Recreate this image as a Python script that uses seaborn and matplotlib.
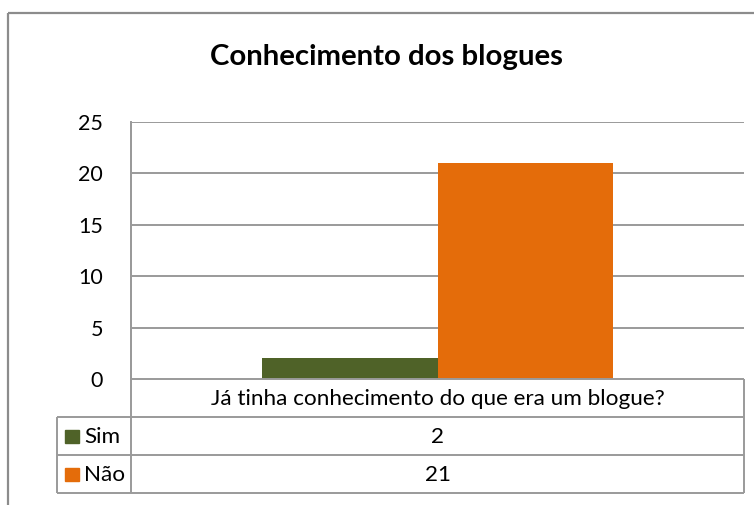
import matplotlib
matplotlib.use("Agg")
import matplotlib.pyplot as plt
import seaborn as sns
import pandas as pd
from matplotlib.lines import Line2D
from matplotlib.patches import Rectangle

title = "Conhecimento dos blogues"
categories = ["Já tinha conhecimento do que era um blogue?"]
series_names = ["Sim", "Não"]
sim_values = [2]
nao_values = [21]
colors = ["#4F6228", "#E46C0A"]
yticks = [0, 5, 10, 15, 20, 25]

sns.set_theme(style="white")
plt.rcParams['font.family'] = ['Lato', 'DejaVu Sans']

df = pd.DataFrame({
    "cat": categories * 2,
    "serie": [series_names[0]] * len(categories) + [series_names[1]] * len(categories),
    "val": sim_values + nao_values,
})

W, H = 754, 505
fig = plt.figure(figsize=(W / 100, H / 100), dpi=100)
fig.patch.set_facecolor("white")

grid_c = "#9A9A9A"

# main axes in pixel layout
L, R, T, B = 131, 744, 122, 379
ax = fig.add_axes([L / W, 1 - B / H, (R - L) / W, (B - T) / H])
sns.barplot(data=df, x="cat", y="val", hue="serie", palette=colors,
            width=0.572, saturation=1, ax=ax, legend=False, zorder=3)
for p in ax.patches:
    p.set_edgecolor("none")
ax.set_xlim(-0.5, 0.5)
ax.set_ylim(0, 25)
ax.set_yticks(yticks)
ax.set_yticklabels([str(t) for t in yticks], fontsize=15.5, color="black")
ax.tick_params(axis="y", length=0, pad=20)
ax.set_xticks([])
ax.set_xlabel("")
ax.set_ylabel("")
for y in yticks[1:]:
    ax.axhline(y, color=grid_c, lw=1.4, zorder=1)
for s in ["top", "right", "bottom"]:
    ax.spines[s].set_visible(False)
ax.spines["left"].set_color(grid_c)
ax.spines["left"].set_linewidth(1.4)

# overlay axes for frame, title and data table (pixel coords)
ov = fig.add_axes([0, 0, 1, 1], zorder=5)
ov.set_xlim(0, W)
ov.set_ylim(H, 0)
ov.axis("off")
ov.patch.set_alpha(0)

def line(x0, y0, x1, y1, c=grid_c, lw=1.4):
    ov.add_line(Line2D([x0, x1], [y0, y1], color=c, lw=lw, solid_capstyle="butt"))

# outer chart frame
line(8, 13, W + 5, 13, c="#8C8C8C", lw=1.6)
line(8, 13, 8, H + 5, c="#8C8C8C", lw=1.6)

ov.text(387, 57, title, ha="center", va="center", fontsize=21.2,
        fontweight="bold", color="black")

# data table
row_y = [379, 417, 455, 493]
TL = 57
line(L, row_y[0], R, row_y[0])
line(TL, row_y[1], R, row_y[1])
line(TL, row_y[2], R, row_y[2])
line(TL, row_y[3], R, row_y[3])
line(L, T, L, row_y[3])
line(R, row_y[0], R, row_y[3])
line(TL, row_y[1], TL, row_y[3])

cx = (L + R) / 2
fs = 16.2
ov.text(cx, (row_y[0] + row_y[1]) / 2 + 1, categories[0], ha="center",
        va="center", fontsize=fs, color="black")
vals = [sim_values, nao_values]
for i, name in enumerate(series_names):
    yc = (row_y[i + 1] + row_y[i + 2]) / 2
    ov.add_patch(Rectangle((65, yc - 6.5), 14, 13, color=colors[i]))
    ov.text(84, yc + 1, name, ha="left", va="center", fontsize=fs, color="black")
    ov.text(cx, yc + 1, str(vals[i][0]), ha="center", va="center",
            fontsize=fs, color="black")

fig.savefig("out.png", dpi=100, facecolor="white")
